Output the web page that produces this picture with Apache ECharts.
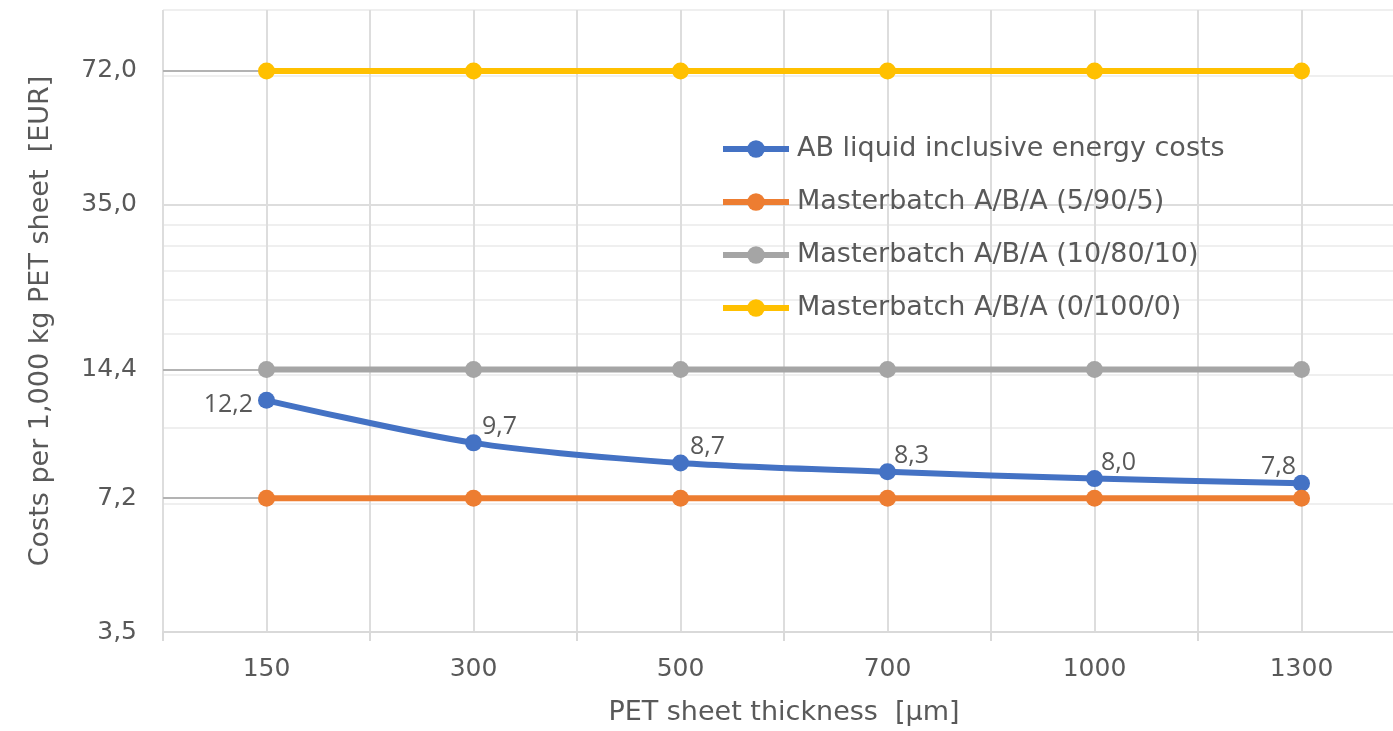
<!DOCTYPE html>
<html>
<head>
<meta charset="utf-8">
<script src="https://cdn.jsdelivr.net/npm/echarts@6/dist/echarts.min.js"></script>
<style>
  html, body { margin: 0; padding: 0; background: #ffffff; }
  #chart { width: 1393px; height: 731px; }
</style>
</head>
<body>
<div id="chart"></div>
<script>
// ---- data ----
const categories = ['150', '300', '500', '700', '1000', '1300'];
const seriesNames = [
  'AB liquid inclusive energy costs',
  'Masterbatch A/B/A (5/90/5)',
  'Masterbatch A/B/A (10/80/10)',
  'Masterbatch A/B/A (0/100/0)'
];
const abLiquid = [12.2, 9.7, 8.7, 8.3, 8.0, 7.8];
const mb5_90_5 = [7.2, 7.2, 7.2, 7.2, 7.2, 7.2];
const mb10_80_10 = [14.4, 14.4, 14.4, 14.4, 14.4, 14.4];
const mb0_100_0 = [72.0, 72.0, 72.0, 72.0, 72.0, 72.0];
const yLabelValues = [3.5, 7.2, 14.4, 35.0, 72.0];
const yMarkerValues = [7.2, 14.4, 72.0];
const yMajorGrid = [3.5, 35];
const yMinorGrid = [7, 10.5, 14, 17.5, 21, 24.5, 28, 31.5, 70, 100];

// ---- styles ----
const colors = ['#4472C4', '#ED7D31', '#A5A5A5', '#FFC000'];
const txt = '#595959';
const font = 'DejaVu Sans';
const labelPlacement = [
  { position: 'left', offset: [0, 5] },
  { position: 'top', offset: [26, 10] },
  { position: 'top', offset: [27, 10] },
  { position: 'top', offset: [24, 10] },
  { position: 'top', offset: [24, 10] },
  { position: 'top', offset: [-23, 10] }
];
const fmt = v => Number(v).toFixed(1).replace('.', ',');

const chart = echarts.init(document.getElementById('chart'));

const logAxisBase = { type: 'log', logBase: 10, min: 3.5, max: 100, position: 'left' };

function lineSeries(i, values, withLabels) {
  return {
    name: seriesNames[i],
    type: 'line',
    xAxisIndex: 0,
    yAxisIndex: 0,
    z: 5,
    smooth: i === 0 ? 0.3 : false,
    symbol: 'circle',
    symbolSize: 17,
    color: colors[i],
    lineStyle: { width: 6, color: colors[i] },
    itemStyle: { color: colors[i] },
    data: values.map((v, k) => withLabels ? {
      value: v,
      label: {
        show: true,
        position: labelPlacement[k].position,
        offset: labelPlacement[k].offset,
        distance: 5,
        formatter: p => fmt(p.value),
        fontFamily: 'Open Sans',
        fontSize: 25,
        color: txt
      }
    } : v)
  };
}

chart.setOption({
  animation: false,
  backgroundColor: '#ffffff',
  grid: { left: 163, top: 10, width: 1242, height: 622, outerBoundsMode: 'none', containLabel: false },
  legend: {
    orient: 'vertical',
    left: 720,
    top: 134,
    padding: 0,
    itemWidth: 66,
    itemHeight: 22,
    itemGap: 23,
    lineStyle: { width: 6 },
    textStyle: { fontFamily: font, fontSize: 27, lineHeight: 30, color: txt, padding: [0, 0, 0, 3] },
    data: seriesNames
  },
  xAxis: [
    {
      type: 'category',
      data: categories,
      position: 'bottom',
      boundaryGap: true,
      axisLine: { show: true, lineStyle: { color: '#d9d9d9', width: 2 } },
      axisTick: { show: true, length: 9, lineStyle: { color: '#d9d9d9', width: 2 } },
      axisLabel: { margin: 25, fontFamily: font, fontSize: 25, color: txt },
      splitLine: { show: false },
      name: 'PET sheet thickness  [µm]',
      nameLocation: 'middle',
      nameGap: 67,
      nameTextStyle: { fontFamily: font, fontSize: 27, color: txt }
    },
    {
      type: 'value',
      min: -0.5,
      max: 5.5,
      interval: 0.5,
      position: 'top',
      axisLine: { show: false },
      axisTick: { show: false },
      axisLabel: { show: false },
      splitLine: { show: true, lineStyle: { color: '#dddddd', width: 2 } }
    }
  ],
  yAxis: [
    Object.assign({}, logAxisBase, {
      axisLine: { show: false },
      axisTick: { show: true, inside: false, length: 17, customValues: yMarkerValues,
        lineStyle: { color: '#b3b3b3', width: 2 } },
      axisLabel: { show: true, customValues: yLabelValues, margin: 26, formatter: v => fmt(v),
        fontFamily: font, fontSize: 25, color: txt },
      splitLine: { show: false },
      name: 'Costs per 1,000 kg PET sheet  [EUR]',
      nameLocation: 'middle',
      nameGap: 109,
      nameTextStyle: { fontFamily: font, fontSize: 27, color: txt }
    }),
    Object.assign({}, logAxisBase, {
      axisLine: { show: false },
      axisTick: { show: true, inside: true, length: 104, customValues: yMarkerValues,
        lineStyle: { color: '#b3b3b3', width: 2 } },
      axisLabel: { show: false },
      splitLine: { show: false }
    }),
    Object.assign({}, logAxisBase, {
      axisLine: { show: false },
      axisTick: { show: false, customValues: yMinorGrid },
      axisLabel: { show: false },
      splitLine: { show: true, lineStyle: { color: '#efefef', width: 2 } }
    }),
    Object.assign({}, logAxisBase, {
      axisLine: { show: false },
      axisTick: { show: false, customValues: yMajorGrid },
      axisLabel: { show: false },
      splitLine: { show: true, lineStyle: { color: '#dddddd', width: 2 } }
    })
  ],
  series: [
    lineSeries(0, abLiquid, true),
    lineSeries(1, mb5_90_5, false),
    lineSeries(2, mb10_80_10, false),
    lineSeries(3, mb0_100_0, false)
  ]
});
</script>
</body>
</html>
